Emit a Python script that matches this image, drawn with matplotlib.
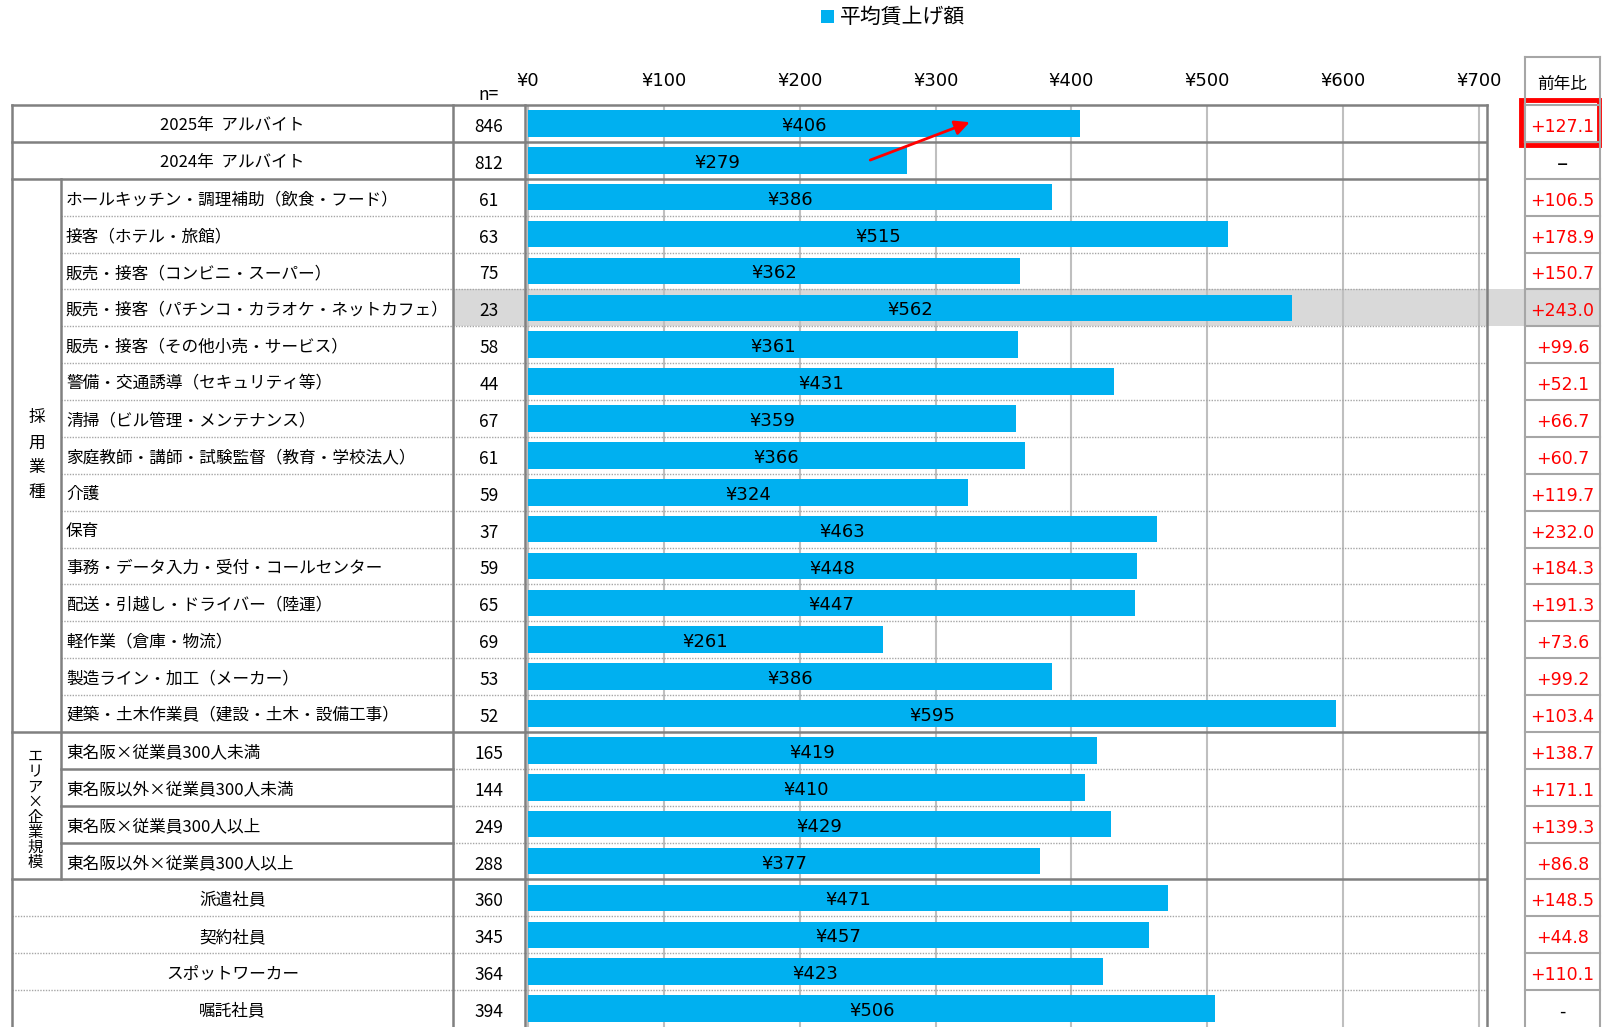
import matplotlib
matplotlib.use('Agg')
import matplotlib.pyplot as plt
from matplotlib.patches import Rectangle

plt.rcParams['font.family'] = ['Noto Sans CJK JP', 'DejaVu Sans']

# data
labels = [
    '2025年  アルバイト', '2024年  アルバイト',
    'ホールキッチン・調理補助（飲食・フード）', '接客（ホテル・旅館）',
    '販売・接客（コンビニ・スーパー）', '販売・接客（パチンコ・カラオケ・ネットカフェ）',
    '販売・接客（その他小売・サービス）', '警備・交通誘導（セキュリティ等）',
    '清掃（ビル管理・メンテナンス）', '家庭教師・講師・試験監督（教育・学校法人）',
    '介護', '保育', '事務・データ入力・受付・コールセンター',
    '配送・引越し・ドライバー（陸運）', '軽作業（倉庫・物流）',
    '製造ライン・加工（メーカー）', '建築・土木作業員（建設・土木・設備工事）',
    '東名阪×従業員300人未満', '東名阪以外×従業員300人未満',
    '東名阪×従業員300人以上', '東名阪以外×従業員300人以上',
    '派遣社員', '契約社員', 'スポットワーカー', '嘱託社員',
]
n_values = [846, 812, 61, 63, 75, 23, 58, 44, 67, 61, 59, 37, 59, 65, 69, 53, 52,
            165, 144, 249, 288, 360, 345, 364, 394]
wage_up = [406, 279, 386, 515, 362, 562, 361, 431, 359, 366, 324, 463, 448, 447, 261,
           386, 595, 419, 410, 429, 377, 471, 457, 423, 506]
yoy = ['+127.1', '–', '+106.5', '+178.9', '+150.7', '+243.0', '+99.6', '+52.1', '+66.7',
       '+60.7', '+119.7', '+232.0', '+184.3', '+191.3', '+73.6', '+99.2', '+103.4',
       '+138.7', '+171.1', '+139.3', '+86.8', '+148.5', '+44.8', '+110.1', '-']
ticks = [0, 100, 200, 300, 400, 500, 600, 700]
highlight = 5
group_occ = (2, 16)    # 採用業種
group_area = (17, 20)  # エリア×企業規模

BLUE = '#00B0F0'
DARK = '#808080'
LIGHT = '#BFBFBF'
DOT = '#A6A6A6'

W, H = 1603, 1027
fig = plt.figure(figsize=(W / 100, H / 100), dpi=100)

n = len(labels)
row_top = 105
row_h = (H - row_top) / n
x_left, x_grp, x_lab, x_n, x_chart_r = 12, 61, 453, 525, 1487
x_yoy_l, x_yoy_r = 1525, 1600
x0_px, x700_px = 528, 1479
px_per_yen = (x700_px - x0_px) / 700.0
dy = 2.5  # text sits a little below the row centre


def top(i):
    return row_top + i * row_h


def mid(i):
    return row_top + (i + 0.5) * row_h


# bar axes
ax = fig.add_axes([x_n / W, 0, (x_chart_r - x_n) / W, (H - row_top) / H])
ax.set_xlim((x_n - x0_px) / px_per_yen, (x_chart_r - x0_px) / px_per_yen)
ax.set_ylim(n - 0.5, -0.5)
ax.axhspan(highlight - 0.5, highlight + 0.5, color='#D9D9D9', lw=0, zorder=0)
for t in ticks:
    ax.axvline(t, color=LIGHT, lw=1.5, zorder=1)
for k in range(1, n):
    if k in (1, 2, group_area[0], group_area[1] + 1):
        ax.axhline(k - 0.5, color=DARK, lw=1.8, zorder=2)
    else:
        ax.axhline(k - 0.5, color=DOT, lw=1, ls=(0, (1, 1)), zorder=2)
ax.barh(range(n), wage_up, height=0.72, color=BLUE, zorder=3)
for i, v in enumerate(wage_up):
    ax.text(v / 2, i + dy / row_h, f'¥{v}', ha='center', va='center', fontsize=13,
            family='DejaVu Sans', zorder=4)
ax.xaxis.tick_top()
ax.set_xticks(ticks)
ax.set_xticklabels([f'¥{t}' for t in ticks], fontsize=13, family='DejaVu Sans')
ax.tick_params(axis='x', length=0, pad=11)
ax.set_yticks([])
for s in ax.spines.values():
    s.set_visible(False)
ax.annotate('', xy=(327, -0.06), xytext=(250, 1.02),
            arrowprops=dict(arrowstyle='-|>', color='red', lw=2, mutation_scale=22),
            zorder=5)

# table overlay in pixel coordinates
ov = fig.add_axes([0, 0, 1, 1], zorder=2)
ov.set_xlim(0, W)
ov.set_ylim(H, 0)
ov.axis('off')
ov.patch.set_alpha(0)

ov.add_patch(Rectangle((x_lab, top(highlight)), x_n - x_lab, row_h, color='#D9D9D9', lw=0))
ov.add_patch(Rectangle((x_chart_r, top(highlight)), x_yoy_r - x_chart_r, row_h,
                       color='#D9D9D9', lw=0))

# horizontal separators of the table part
ov.plot([x_left, x_chart_r], [top(0), top(0)], color=DARK, lw=1.8)
for k in range(1, n):
    y = top(k)
    if k in (1, 2, group_area[0], group_area[1] + 1):
        ov.plot([x_left, x_n], [y, y], color=DARK, lw=1.8)
    elif group_area[0] < k <= group_area[1]:
        ov.plot([x_grp, x_lab], [y, y], color=DARK, lw=1.8)
        ov.plot([x_lab, x_n], [y, y], color=DOT, lw=1, ls=(0, (1, 1)))
    elif group_occ[0] < k <= group_occ[1]:
        ov.plot([x_grp, x_n], [y, y], color=DOT, lw=1, ls=(0, (1, 1)))
    else:
        ov.plot([x_left, x_n], [y, y], color=DOT, lw=1, ls=(0, (1, 1)))

# vertical borders
for x in (x_left, x_lab, x_n, x_chart_r):
    ov.plot([x, x], [top(0), H], color=DARK, lw=1.8)
ov.plot([x_grp, x_grp], [top(group_occ[0]), top(group_area[1] + 1)], color=DARK, lw=1.8)

# row labels and n
for i, (lab, nv) in enumerate(zip(labels, n_values)):
    if group_occ[0] <= i <= group_area[1]:
        ov.text(66, mid(i) + dy, lab, ha='left', va='center', fontsize=12)
    else:
        ov.text((x_left + x_lab) / 2, mid(i) + dy, lab, ha='center', va='center', fontsize=12)
    ov.text((x_lab + x_n) / 2, mid(i) + dy + 1, str(nv), ha='center', va='center',
            fontsize=12.5)

ov.text((x_lab + x_n) / 2, 95, 'n=', ha='center', va='center', fontsize=12.5)

# vertical group titles
yc = (top(group_occ[0]) + top(group_occ[1] + 1)) / 2
for j, ch in enumerate('採用業種'):
    ov.text(37, yc + (j - 1.5) * 25, ch, ha='center', va='center', fontsize=12)
yc = (top(group_area[0]) + top(group_area[1] + 1)) / 2 + 4
title_area = 'エリア×企業規模'
for j, ch in enumerate(title_area):
    ov.text(35, yc + (j - (len(title_area) - 1) / 2) * 15.2, ch, ha='center',
            va='center', fontsize=11)

# 前年比 column
ov.plot([x_yoy_l, x_yoy_l], [57, H], color=DOT, lw=1.5)
ov.plot([x_yoy_r, x_yoy_r], [57, H], color=DOT, lw=1.5)
ov.plot([x_yoy_l, x_yoy_r], [57, 57], color=DOT, lw=1.5)
for k in range(n):
    ov.plot([x_yoy_l, x_yoy_r], [top(k), top(k)], color=DOT, lw=1.5)
ov.text((x_yoy_l + x_yoy_r) / 2, 84, '前年比', ha='center', va='center', fontsize=12)
for i, s in enumerate(yoy):
    ov.text((x_yoy_l + x_yoy_r) / 2, mid(i) + dy + 1, s, ha='center', va='center',
            fontsize=16 if s == '–' else 12.5, family='DejaVu Sans',
            color='red' if s.startswith('+') else 'black')
ov.add_patch(Rectangle((1521, 100), 78, 45, fill=False, ec='red', lw=3.5))

# legend
ov.add_patch(Rectangle((821, 10), 13, 13, color=BLUE, lw=0))
ov.text(840, 17, '平均賃上げ額', ha='left', va='center', fontsize=15)

fig.savefig('out.png', dpi=100)
